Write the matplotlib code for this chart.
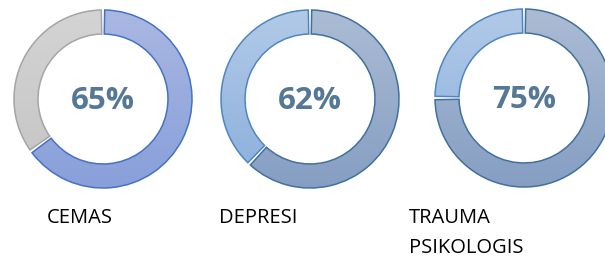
import numpy as np
import matplotlib
matplotlib.use("Agg")
import matplotlib.pyplot as plt
from matplotlib.colors import LinearSegmentedColormap

categories = ["CEMAS", "DEPRESI", "TRAUMA\nPSIKOLOGIS"]
values = [65, 62, 75]
labels = ["65%", "62%", "75%"]

W, H = 605, 258
fig = plt.figure(figsize=(W / 100, H / 100), dpi=100)

centers = [(103, 99), (310, 99), (524, 98)]
R = 89
# (top colour, bottom colour, edge colour) for [main, rest]
styles = [
    [((170, 184, 226), (136, 159, 218), "#4472C4"),
     ((212, 212, 212), (196, 196, 196), "#A5A5A5")],
    [((172, 188, 212), (133, 158, 195), "#41719C"),
     ((178, 202, 232), (138, 174, 220), "#4F86C0")],
    [((172, 188, 212), (133, 158, 195), "#41719C"),
     ((178, 202, 232), (138, 174, 220), "#4F86C0")],
]
text_color = "#547895"

label_pos = [(80, 218, "center"), (258, 218, "center"), (409, 218, "left")]

for i, (val, (cx, cy)) in enumerate(zip(values, centers)):
    ax = fig.add_axes([(cx - R) / W, 1 - (cy + R) / H, 2 * R / W, 2 * R / H])
    ax.set_axis_off()
    wedges, _ = ax.pie([val, 100 - val], startangle=90, counterclock=False,
                       radius=1, wedgeprops=dict(width=0.27, linewidth=1.1))
    gap = 1.1
    for w, (top, bot, ec) in zip(wedges, styles[i]):
        w.set_theta1(w.theta1 + gap)
        w.set_theta2(w.theta2 - gap)
        w.set_facecolor("none")
        w.set_edgecolor(ec)
        w.set_clip_on(False)
        w.set_zorder(3)
        cmap = LinearSegmentedColormap.from_list(
            "g", [np.array(top) / 255, np.array(bot) / 255])
        grad = np.linspace(0, 1, 256).reshape(-1, 1)
        im = ax.imshow(grad, cmap=cmap, extent=(-1.02, 1.02, -1.02, 1.02),
                       origin="upper", aspect="auto", zorder=2)
        im.set_clip_path(w)
    ax.set_xlim(-1, 1)
    ax.set_ylim(-1, 1)
    ax.text(0, -0.02, labels[i], ha="center", va="center", fontsize=22.5,
            fontweight="bold", color=text_color, family="Open Sans")

for (x, y, ha), cat in zip(label_pos, categories):
    for k, line in enumerate(cat.split("\n")):
        fig.text(x / W, 1 - (y + 30 * k) / H, line, ha=ha, va="center",
                 fontsize=14.5, color="black", family="Open Sans")

fig.savefig("out.png", dpi=100)
